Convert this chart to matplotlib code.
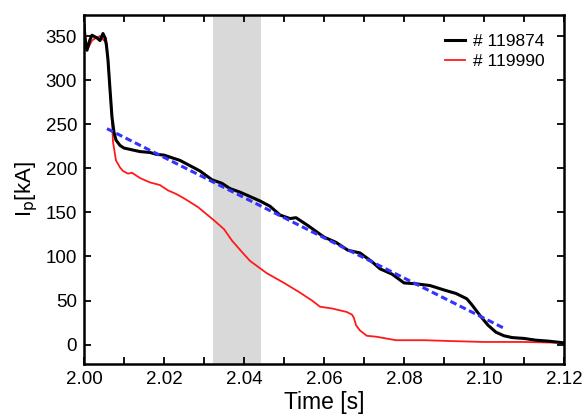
import matplotlib
matplotlib.use("Agg")
import matplotlib.pyplot as plt
from matplotlib.ticker import MultipleLocator

plt.rcParams['font.family'] = ['Liberation Sans', 'DejaVu Sans']

# shot 119874 (black)
t_black = [2.000, 2.00025, 2.00075, 2.0015, 2.002, 2.00325, 2.004, 2.00475, 2.00525, 2.0056,
           2.006, 2.0065, 2.007, 2.0075, 2.008, 2.009, 2.010, 2.012, 2.014, 2.0165, 2.018,
           2.020, 2.022, 2.024, 2.0265, 2.029, 2.032, 2.0345, 2.0365, 2.039, 2.0415,
           2.044, 2.0465, 2.049, 2.0515, 2.053, 2.056, 2.060, 2.063, 2.066, 2.069,
           2.072, 2.074, 2.077, 2.080, 2.083, 2.0865, 2.090, 2.093, 2.0957, 2.097,
           2.099, 2.101, 2.103, 2.105, 2.107, 2.110, 2.113, 2.116, 2.120]
ip_black = [362, 348, 334, 346, 351, 348, 345, 353, 348, 340,
            323, 290, 258, 241, 232, 226, 223, 221, 219, 218, 216,
            215, 212, 209, 203, 197, 187, 183, 177, 173, 168,
            163, 157, 147, 143, 144, 135, 122, 116, 107, 104,
            94, 86, 80, 70, 69, 67, 62, 58, 52, 45,
            33, 22, 14, 10, 8, 7, 5, 4, 2]

# shot 119990 (red)
t_red = [2.000, 2.0005, 2.001, 2.002, 2.003, 2.004, 2.005, 2.0055, 2.006, 2.0065,
         2.007, 2.00725, 2.008, 2.009, 2.00975, 2.011, 2.012, 2.014, 2.0165, 2.019,
         2.021, 2.023, 2.025, 2.0285, 2.0325, 2.035, 2.037, 2.0395, 2.0415, 2.0457,
         2.050, 2.054, 2.057, 2.059, 2.062, 2.0657, 2.067, 2.0675, 2.068, 2.069,
         2.0707, 2.073, 2.078, 2.085, 2.092, 2.100, 2.110, 2.120]
ip_red = [375, 340, 336, 345, 348, 350, 345, 348, 325, 290,
          255, 230, 209, 201, 197, 194, 195, 189, 184, 181,
          175, 171, 166, 156, 141, 131, 118, 105, 95, 81,
          70, 59, 50, 43, 41, 37, 34, 30, 22, 16,
          10, 9, 5, 5, 4, 3, 3, 2]

# linear fit (blue dashed)
t_fit = [2.00575, 2.10525]
ip_fit = [245, 18]

shade = (2.0323, 2.0443)

fig = plt.figure(figsize=(5.84, 4.16), dpi=100)
ax = fig.add_axes([0.1438, 0.125, 0.822, 0.839])

ax.axvspan(shade[0], shade[1], color='#d9d9d9', lw=0, zorder=0)
ax.plot(t_red, ip_red, color='#ff1a1a', lw=1.3, label='# 119990', zorder=2)
ax.plot(t_black, ip_black, color='black', lw=2.2, label='# 119874', zorder=3)
ax.plot(t_fit, ip_fit, color='#3333ff', lw=2.2, ls=(0, (2.2, 1.2)), zorder=4)

ax.set_xlim(2.00, 2.12)
ax.set_ylim(-22, 374)
ax.xaxis.set_major_locator(MultipleLocator(0.02))
ax.xaxis.set_minor_locator(MultipleLocator(0.01))
ax.yaxis.set_major_locator(MultipleLocator(50))
ax.xaxis.set_major_formatter(matplotlib.ticker.FormatStrFormatter('%.2f'))
ax.tick_params(which='both', direction='in', top=True, right=True, labelsize=13.5, width=1.3)
ax.tick_params(which='major', length=5, pad=5)
ax.tick_params(which='minor', length=5)
for s in ax.spines.values():
    s.set_linewidth(1.8)

ax.set_xlabel('Time [s]', fontsize=16.5, labelpad=2)
ax.set_ylabel(r'I$_\mathrm{p}$[kA]', fontsize=16)

h, l = ax.get_legend_handles_labels()
ax.legend(h[::-1], l[::-1], loc='upper right', frameon=False, fontsize=12.5,
          handlelength=1.15, handletextpad=0.5, labelspacing=0.25, borderaxespad=0.7)

fig.savefig('out.png', dpi=100)
